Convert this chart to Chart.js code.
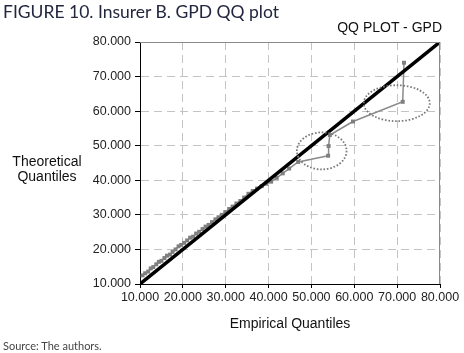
<!DOCTYPE html>
<html>
<head>
<meta charset="utf-8">
<script src="https://cdn.jsdelivr.net/npm/chart.js@4/dist/chart.umd.min.js"></script>
<style>
  body { margin: 0; background: #fff; }
  #wrap { position: relative; width: 464px; height: 353px; overflow: hidden; }
  #qq { position: absolute; left: 0; top: 0; }
  .txt { position: absolute; white-space: nowrap; }
  #fig { left: 3px; top: 1px; font-family: Lato, sans-serif; font-size: 17.5px; color: #22263f; }
  #sub { right: 22px; top: 19px; font-family: "Liberation Sans", Arial, sans-serif; font-size: 14px; color: #111; }
  #ytitle { left: 8px; top: 154px; width: 78px; text-align: center; line-height: 15px; font-family: "Liberation Sans", Arial, sans-serif; font-size: 14px; color: #111; }
  #xtitle { left: 140px; width: 300px; top: 315px; text-align: center; font-family: "Liberation Sans", Arial, sans-serif; font-size: 14px; color: #111; }
  #src { left: 3px; top: 339px; font-family: Lato, sans-serif; font-size: 11px; color: #444; }
</style>
</head>
<body>
<div id="wrap">
  <canvas id="qq" width="464" height="353"></canvas>
  <div class="txt" id="fig">FIGURE 10. Insurer B. GPD QQ plot</div>
  <div class="txt" id="sub">QQ PLOT - GPD</div>
  <div class="txt" id="ytitle">Theoretical<br>Quantiles</div>
  <div class="txt" id="xtitle">Empirical Quantiles</div>
  <div class="txt" id="src">Source: The authors.</div>
</div>
<script>
// empirical vs theoretical quantiles
const empirical = [10.6, 11.2, 11.9, 12.5, 13.1, 13.8, 14.4, 15.0, 15.7, 16.3,
  17.0, 17.6, 18.3, 19.0, 19.6, 20.3, 21.0, 21.7, 22.4, 23.1,
  23.8, 24.6, 25.3, 26.0, 26.8, 27.6, 28.3, 29.1, 29.9, 30.8,
  31.6, 32.5, 33.4, 34.3, 35.3, 36.3, 37.3, 38.4, 39.5, 40.6,
  41.9, 43.3, 44.8, 46.9, 53.9, 54.0, 54.3, 59.7, 71.3, 71.6];
const theoretical = [12.5, 13.1, 13.6, 14.5, 14.9, 15.7, 16.4, 16.7, 17.5, 18.2,
  18.5, 19.3, 20.0, 20.9, 21.3, 21.9, 22.6, 23.4, 23.7, 24.6,
  25.1, 25.9, 26.6, 27.1, 27.9, 28.7, 29.3, 30.0, 30.8, 31.7,
  32.4, 33.3, 34.0, 35.0, 36.1, 36.9, 37.6, 38.3, 39.0, 39.6,
  40.7, 42.0, 43.4, 45.3, 47.1, 49.9, 53.1, 57.0, 62.7, 74.0];

// 45 degree reference line
const refLineX = [10, 80];
const refLineY = [10, 80];

const xTickLabels = ['10.000', '20.000', '30.000', '40.000', '50.000', '60.000', '70.000', '80.000'];
const yTickLabels = ['10.000', '20.000', '30.000', '40.000', '50.000', '60.000', '70.000', '80.000'];

// dotted ellipses marking the outliers (centre and radii in data units)
const ellipseCx = [69.9, 52.4];
const ellipseCy = [62.3, 48.5];
const ellipseRx = [7.7, 5.8];
const ellipseRy = [5.2, 5.35];

const axisFont = { family: '"Liberation Sans", Arial, sans-serif', size: 12.5 };

const frameAndEllipses = {
  id: 'frameAndEllipses',
  afterDatasetsDraw(chart) {
    const { ctx, chartArea: a, scales: { x, y } } = chart;
    ctx.save();
    // solid top / right frame
    ctx.strokeStyle = '#8a8a8a';
    ctx.lineWidth = 1;
    ctx.beginPath();
    ctx.moveTo(a.left, a.top + 0.5);
    ctx.lineTo(a.right - 0.5, a.top + 0.5);
    ctx.lineTo(a.right - 0.5, a.bottom);
    ctx.stroke();
    // ellipses
    ctx.strokeStyle = '#7a7a7a';
    ctx.lineWidth = 1.8;
    ctx.setLineDash([1.6, 1.8]);
    for (let i = 0; i < ellipseCx.length; i++) {
      const cx = x.getPixelForValue(ellipseCx[i]);
      const cy = y.getPixelForValue(ellipseCy[i]);
      const rx = Math.abs(x.getPixelForValue(ellipseCx[i] + ellipseRx[i]) - cx);
      const ry = Math.abs(y.getPixelForValue(ellipseCy[i] + ellipseRy[i]) - cy);
      ctx.beginPath();
      ctx.ellipse(cx, cy, rx, ry, 0, 0, Math.PI * 2);
      ctx.stroke();
    }
    ctx.restore();
  }
};

new Chart(document.getElementById('qq'), {
  type: 'scatter',
  data: {
    datasets: [
      {
        label: 'reference',
        data: refLineX.map((v, i) => ({ x: v, y: refLineY[i] })),
        showLine: true,
        borderColor: '#000',
        borderWidth: 3.5,
        pointRadius: 0,
        order: 0
      },
      {
        label: 'QQ',
        data: empirical.map((v, i) => ({ x: v, y: theoretical[i] })),
        showLine: true,
        borderColor: '#8a8a8a',
        borderWidth: 1.5,
        pointStyle: 'rect',
        pointRadius: 2.8,
        pointBackgroundColor: '#7f7f7f',
        pointBorderColor: '#7f7f7f',
        pointBorderWidth: 0,
        order: 1
      }
    ]
  },
  options: {
    responsive: false,
    animation: false,
    layout: { padding: { top: 42, right: 24, left: 0, bottom: 0 } },
    plugins: {
      legend: { display: false },
      tooltip: { enabled: false }
    },
    scales: {
      x: {
        type: 'linear',
        min: 10,
        max: 80,
        afterFit(s) { s.height = 69; },
        ticks: {
          stepSize: 10,
          maxRotation: 0,
          padding: 2,
          color: '#222',
          font: axisFont,
          callback: (v, i) => xTickLabels[i]
        },
        grid: { color: '#c4c4c4', lineWidth: 1, tickLength: 4, tickColor: '#000', tickBorderDash: [] },
        border: { color: '#000', width: 1, dash: [8, 5] }
      },
      y: {
        type: 'linear',
        min: 10,
        max: 80,
        afterFit(s) { s.width = 140; },
        ticks: {
          stepSize: 10,
          padding: 4,
          color: '#222',
          font: axisFont,
          callback: (v, i) => yTickLabels[i]
        },
        grid: { color: '#c4c4c4', lineWidth: 1, tickLength: 5, tickColor: '#000', tickBorderDash: [] },
        border: { color: '#000', width: 1, dash: [8, 5] }
      }
    }
  },
  plugins: [frameAndEllipses]
});
</script>
</body>
</html>
